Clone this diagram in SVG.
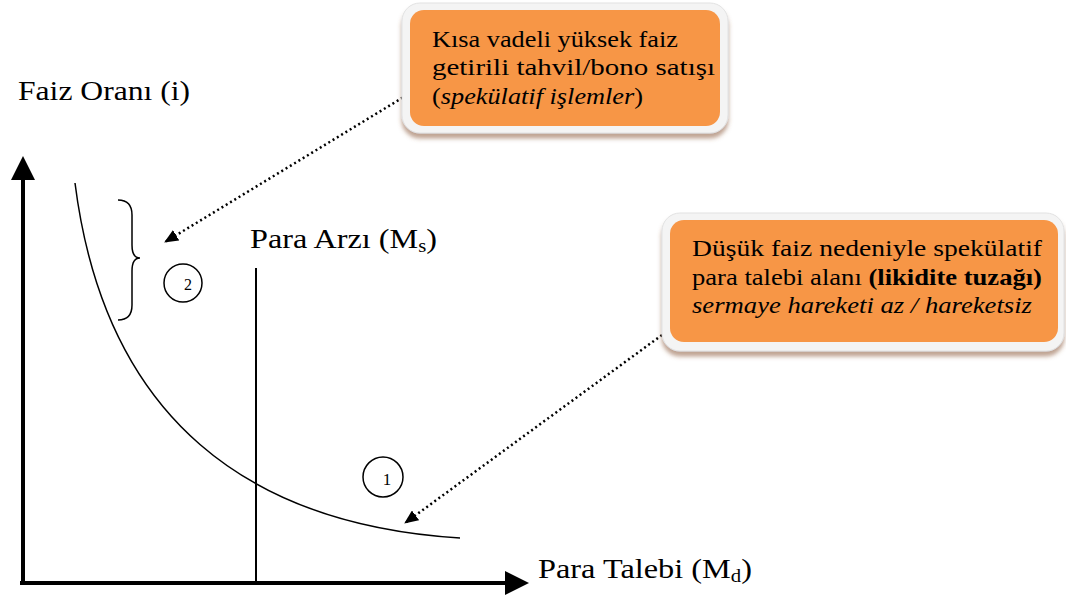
<svg xmlns="http://www.w3.org/2000/svg" width="1066" height="595" viewBox="0 0 1066 595">
<defs>
<marker id="ah" markerWidth="6" markerHeight="6" refX="5" refY="3" orient="auto" markerUnits="strokeWidth"><path d="M0,0 L6,3 L0,6 z" fill="#000"/></marker>
<marker id="dh" markerWidth="14" markerHeight="12" refX="13" refY="6" orient="auto" markerUnits="userSpaceOnUse"><path d="M0,0 L14,6 L0,12 z" fill="#000"/></marker>
<filter id="sh" x="-10%" y="-10%" width="120%" height="130%"><feDropShadow dx="0" dy="5" stdDeviation="2" flood-color="#8a5a3a" flood-opacity="0.55"/></filter>
</defs>
<style>
.lbl{font-size:28px}
.box{font-size:23px}
.frame{fill:#f4f4f4;stroke:#e2e2e2;stroke-width:1}
.org{fill:#f79646}
.dot{fill:none;stroke:#000;stroke-width:2.5;stroke-dasharray:2 3}
.circ{fill:#fff;stroke:#000;stroke-width:1.5}
</style>
<rect width="1066" height="595" fill="#fff"/>
<g font-family="'Liberation Serif','DejaVu Serif','Times New Roman',serif" fill="#000">
<g id="axes">
<line x1="23" y1="583" x2="23" y2="160" stroke="#000" stroke-width="4" marker-end="url(#ah)"/>
<line x1="20" y1="583" x2="525" y2="583" stroke="#000" stroke-width="4" marker-end="url(#ah)"/>
<text class="lbl" x="18" y="100" textLength="172" lengthAdjust="spacingAndGlyphs">Faiz Oranı (i)</text>
<text class="lbl" x="538" y="578" textLength="214" lengthAdjust="spacingAndGlyphs">Para Talebi (M<tspan font-size="18" dy="4">d</tspan><tspan dy="-4">)</tspan></text>
</g>
<g id="money-supply">
<line x1="256" y1="268" x2="256" y2="583" stroke="#000" stroke-width="2"/>
<text class="lbl" x="250" y="248" textLength="187" lengthAdjust="spacingAndGlyphs">Para Arzı (M<tspan font-size="18" dy="4">s</tspan><tspan dy="-4">)</tspan></text>
</g>
<g id="demand-curve">
<path d="M75,183 C105,420 250,525 460,538" fill="none" stroke="#000" stroke-width="1.5"/>
</g>
<g id="brace">
<path d="M118,200 Q132,200 132,215 L132,245 Q132,258 140,258 Q132,258 132,271 L132,305 Q132,320 118,320" fill="none" stroke="#000" stroke-width="1.5"/>
</g>
<g id="zone2">
<circle class="circ" cx="183" cy="283" r="19"/>
<text x="188" y="290" font-size="16" text-anchor="middle">2</text>
</g>
<g id="zone1">
<circle class="circ" cx="383" cy="477" r="20"/>
<text x="387" y="485" font-size="17" text-anchor="middle">1</text>
</g>
<g id="connectors">
<line class="dot" x1="407" y1="95" x2="165" y2="242" marker-end="url(#dh)"/>
<line class="dot" x1="662" y1="335" x2="405" y2="523" marker-end="url(#dh)"/>
</g>
<g id="box-speculative">
<rect class="frame" x="402" y="3" width="326" height="130" rx="18" filter="url(#sh)"/>
<rect class="org" x="410" y="10" width="310" height="116" rx="14"/>
<text class="box" x="432" y="47" textLength="246" lengthAdjust="spacingAndGlyphs">Kısa vadeli yüksek faiz</text>
<text class="box" x="432" y="75" textLength="283" lengthAdjust="spacingAndGlyphs">getirili tahvil/bono satışı</text>
<text class="box" x="432" y="104" textLength="211" lengthAdjust="spacingAndGlyphs">(<tspan font-style="italic">spekülatif işlemler</tspan>)</text>
</g>
<g id="box-liquidity-trap">
<rect class="frame" x="662" y="213" width="402" height="138" rx="18" filter="url(#sh)"/>
<rect class="org" x="670" y="220" width="388" height="122" rx="14"/>
<text class="box" x="692" y="256" textLength="350" lengthAdjust="spacingAndGlyphs">Düşük faiz nedeniyle spekülatif</text>
<text class="box" x="692" y="285" textLength="350" lengthAdjust="spacingAndGlyphs">para talebi alanı <tspan font-weight="bold">(likidite tuzağı)</tspan></text>
<text class="box" x="692" y="313" font-style="italic" textLength="340" lengthAdjust="spacingAndGlyphs">sermaye hareketi az / hareketsiz</text>
</g>
</g>
</svg>
